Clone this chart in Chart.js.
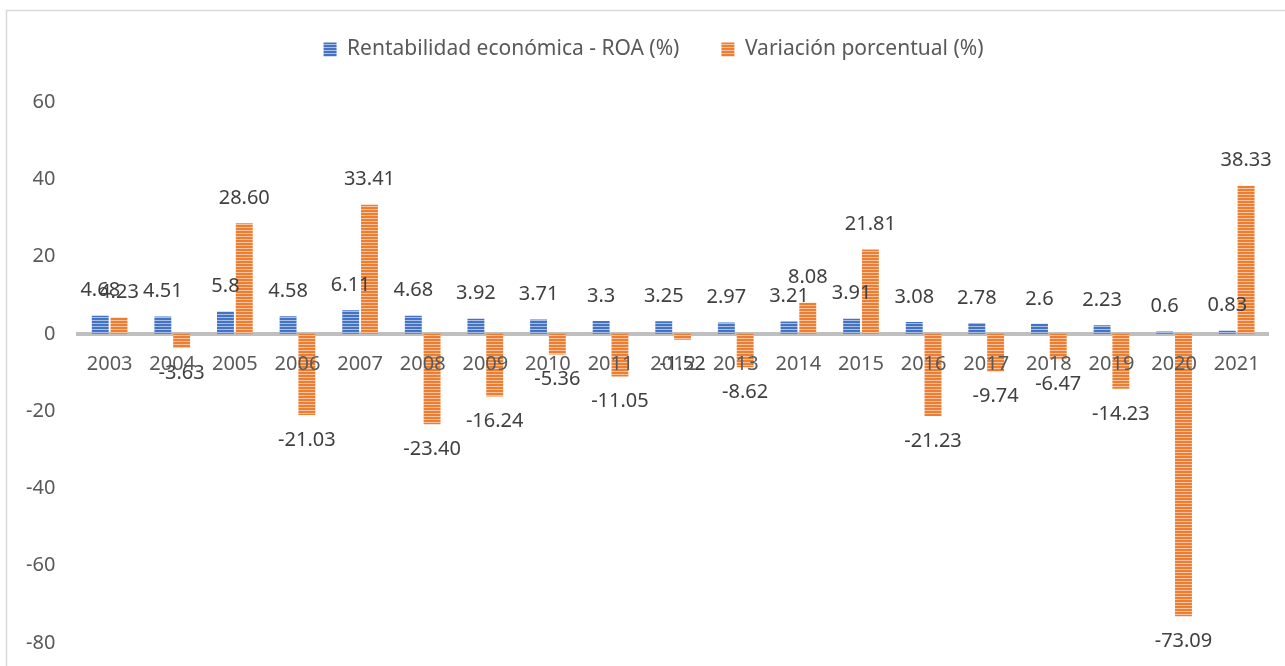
<!DOCTYPE html>
<html>
<head>
<meta charset="utf-8">
<script src="https://cdn.jsdelivr.net/npm/chart.js@4.4.1/dist/chart.umd.min.js"></script>
<style>
  html, body { margin: 0; padding: 0; background: #fff; }
  #wrap { width: 1285px; height: 666px; position: relative; }
</style>
</head>
<body>
<div id="wrap"><canvas id="myChart"></canvas></div>
<script>
// data
const years = ['2003', '2004', '2005', '2006', '2007', '2008', '2009', '2010', '2011', '2012',
               '2013', '2014', '2015', '2016', '2017', '2018', '2019', '2020', '2021'];
const roa = [4.68, 4.51, 5.8, 4.58, 6.11, 4.68, 3.92, 3.71, 3.3, 3.25,
             2.97, 3.21, 3.91, 3.08, 2.78, 2.6, 2.23, 0.6, 0.83];
const variacion = [4.23, -3.63, 28.60, -21.03, 33.41, -23.40, -16.24, -5.36, -11.05, -1.52,
                   -8.62, 8.08, 21.81, -21.23, -9.74, -6.47, -14.23, -73.09, 38.33];
const yTicks = [-80, -60, -40, -20, 0, 20, 40, 60];

const FONT = "'Noto Sans', sans-serif";

// striped fill like the excel pattern
function stripes(base, light) {
    const c = document.createElement('canvas');
    c.width = 4; c.height = 3;
    const g = c.getContext('2d');
    g.fillStyle = base;
    g.fillRect(0, 0, 4, 3);
    g.fillStyle = light;
    g.fillRect(0, 2, 4, 1);
    return g.createPattern(c, 'repeat');
}

const ctx = document.getElementById('myChart').getContext('2d');
const bluePat = stripes('#4472C4', '#A9BFE6');
const orangePat = stripes('#ED7D31', '#F8C3A0');

// value labels just beyond the bar ends
const valueLabels = {
    id: 'valueLabels',
    afterDatasetsDraw(chart) {
        const c = chart.ctx;
        c.save();
        c.font = '20px ' + FONT;
        c.fillStyle = '#404040';
        c.textAlign = 'center';
        c.textBaseline = 'middle';
        chart.data.datasets.forEach((ds, i) => {
            chart.getDatasetMeta(i).data.forEach((bar, j) => {
                const v = ds.data[j];
                const txt = i === 1 ? v.toFixed(2) : String(v);
                c.fillText(txt, bar.x, v >= 0 ? bar.y - 25 : bar.y + 25);
            });
        });
        c.restore();
    }
};

// outer frame, more room under the legend, legend nudged right
const frame = {
    id: 'frame',
    beforeInit(chart) {
        const lg = chart.legend;
        const fit = lg.fit;
        lg.fit = function () {
            fit.call(this);
            this.height += 32;
        };
        const draw = lg.draw;
        lg.draw = function () {
            this.ctx.save();
            this.ctx.translate(18, 0);
            draw.apply(this, arguments);
            this.ctx.restore();
        };
    },
    beforeDraw(chart) {
        const c = chart.ctx;
        c.save();
        c.strokeStyle = '#D9D9D9';
        c.lineWidth = 1.5;
        c.strokeRect(6.5, 10.5, 1300, 700);
        c.restore();
    }
};

new Chart(ctx, {
    type: 'bar',
    data: {
        labels: years,
        datasets: [{
            label: 'Rentabilidad económica - ROA (%)',
            data: roa,
            backgroundColor: bluePat,
            borderWidth: 0
        }, {
            label: 'Variación porcentual (%)',
            data: variacion,
            backgroundColor: orangePat,
            borderWidth: 0
        }]
    },
    options: {
        responsive: true,
        maintainAspectRatio: false,
        animation: false,
        layout: { padding: { top: -3, left: 3, right: 17, bottom: 23 } },
        datasets: { bar: { categoryPercentage: 0.6, barPercentage: 0.9 } },
        plugins: {
            legend: {
                position: 'top',
                labels: {
                    font: { family: FONT, size: 21 },
                    color: '#595959',
                    boxWidth: 13,
                    boxHeight: 14,
                    padding: 42
                }
            },
            tooltip: { enabled: false }
        },
        scales: {
            x: {
                position: { y: 0 },
                grid: { display: false, drawTicks: false },
                border: { color: '#BFBFBF', width: 4 },
                ticks: {
                    z: 1,
                    font: { family: FONT, size: 20 },
                    color: '#595959',
                    padding: 18,
                    maxRotation: 0,
                    autoSkip: false
                }
            },
            y: {
                min: -80,
                max: 60,
                afterBuildTicks(scale) {
                    scale.ticks = yTicks.map(v => ({ value: v }));
                },
                afterFit(scale) {
                    // don't let the tick padding eat vertical room
                    scale.paddingTop = 0;
                    scale.paddingBottom = 0;
                },
                grid: { display: false, drawTicks: false },
                border: { display: false },
                ticks: {
                    font: { family: FONT, size: 20 },
                    color: '#595959',
                    padding: 23
                }
            }
        }
    },
    plugins: [valueLabels, frame]
});
</script>
</body>
</html>
